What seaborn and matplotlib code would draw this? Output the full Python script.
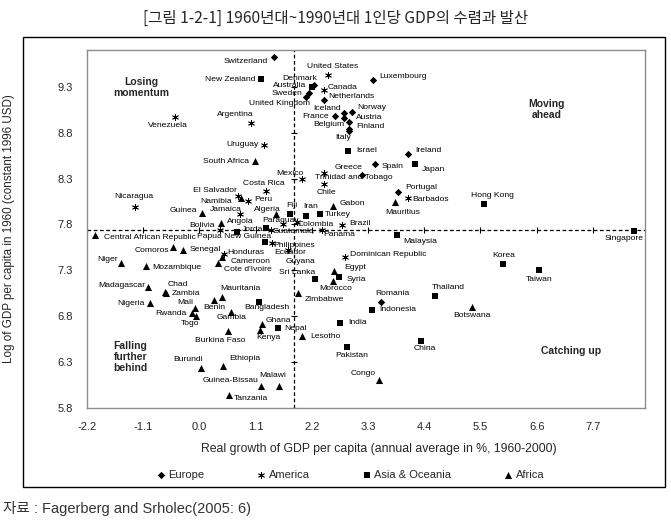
import pandas as pd
import seaborn as sns
import matplotlib.pyplot as plt
from matplotlib.patches import Rectangle

# --- data (growth %, log GDP per capita 1960) ---
europe_names = ["Switzerland", "Denmark", "Sweden", "United Kingdom", "Netherlands",
                "Luxembourg", "Norway", "Iceland", "Belgium", "France", "Austria",
                "Finland", "Italy", "Ireland", "Spain", "Greece", "Portugal", "Romania"]
europe_growth = [1.45, 2.25, 2.15, 2.09, 2.44, 3.39, 2.99, 2.83, 2.83, 2.66, 2.92,
                 2.93, 2.93, 4.09, 3.43, 3.19, 3.89, 3.56]
europe_gdp = [9.62, 9.32, 9.23, 9.19, 9.15, 9.37, 9.03, 9.01, 8.96, 8.98, 8.92,
              8.84, 8.82, 8.57, 8.46, 8.34, 8.15, 6.96]

america_names = ["United States", "Canada", "Venezuela", "Argentina", "Uruguay", "Mexico",
                 "Trinidad and Tobago", "Chile", "Barbados", "Costa Rica", "El Salvador",
                 "Peru", "Nicaragua", "Jamaica", "Bolivia", "Paraguay", "Colombia",
                 "Guatemala", "Panama", "Brazil", "Ecuador", "Guyana", "Honduras",
                 "Dominican Republic"]
america_growth = [2.51, 2.43, -0.48, 1.00, 1.26, 2.00, 2.43, 2.43, 4.09, 1.31, 0.76,
                  0.96, -1.27, 0.80, 0.41, 1.64, 1.90, 1.41, 2.39, 2.80, 1.42, 1.74,
                  0.49, 2.84]
america_gdp = [9.43, 9.26, 8.97, 8.91, 8.67, 8.29, 8.36, 8.24, 8.09, 8.16, 8.11,
               8.05, 7.99, 7.91, 7.74, 7.80, 7.83, 7.74, 7.74, 7.79, 7.60, 7.52,
               7.48, 7.45]

asia_names = ["New Zealand", "Australia", "Israel", "Japan", "Hong Kong", "Fiji", "Iran",
              "Turkey", "Jordan", "Papua New Guinea", "Philippines", "Malaysia",
              "Singapore", "Korea", "Taiwan", "Sri Lanka", "Syria", "Thailand",
              "Indonesia", "Bangladesh", "India", "Nepal", "Pakistan", "China"]
asia_growth = [1.21, 2.20, 2.90, 4.22, 5.56, 1.78, 2.09, 2.35, 0.73, 1.31, 1.29, 3.86,
               8.51, 5.95, 6.65, 2.26, 2.74, 4.61, 3.37, 1.17, 2.75, 1.53, 2.88, 4.33]
asia_gdp = [9.38, 9.30, 8.60, 8.46, 8.02, 7.91, 7.89, 7.91, 7.72, 7.76, 7.61, 7.68,
            7.73, 7.37, 7.30, 7.21, 7.23, 7.02, 6.87, 6.96, 6.73, 6.67, 6.46, 6.53]

africa_names = ["South Africa", "Namibia", "Mauritius", "Gabon", "Algeria", "Guinea",
                "Angola", "Central African Republic", "Comoros", "Senegal", "Niger",
                "Mozambique", "Cameroon", "Cote d'Ivoire", "Egypt", "Morocco", "Zimbabwe",
                "Madagascar", "Chad", "Zambia", "Nigeria", "Mali", "Rwanda", "Togo",
                "Benin", "Mauritania", "Gambia", "Ghana", "Kenya", "Burkina Faso",
                "Lesotho", "Botswana", "Burundi", "Ethiopia", "Guinea-Bissau", "Malawi",
                "Tanzania", "Congo"]
africa_growth = [1.09, 0.81, 3.82, 2.62, 1.49, 0.06, 0.42, -2.05, -0.52, -0.33, -1.54,
                 -1.05, 0.45, 0.36, 2.64, 2.62, 1.92, -1.00, -0.67, -0.65, -0.97, -0.08,
                 -0.15, -0.07, 0.29, 0.45, 0.61, 1.22, 1.19, 0.55, 2.00, 5.33, 0.03,
                 0.47, 1.20, 1.55, 0.57, 3.52]
africa_gdp = [8.49, 8.09, 8.04, 8.00, 7.91, 7.92, 7.81, 7.68, 7.55, 7.52, 7.38,
              7.35, 7.44, 7.38, 7.29, 7.18, 7.05, 7.12, 7.06, 7.05, 6.94, 6.89,
              6.83, 6.80, 6.98, 7.01, 6.85, 6.72, 6.65, 6.64, 6.58, 6.90, 6.24,
              6.26, 6.04, 6.04, 5.94, 6.10]

x_ticks = [-2.2, -1.1, 0.0, 1.1, 2.2, 3.3, 4.4, 5.5, 6.6, 7.7]
y_ticks = [5.8, 6.3, 6.8, 7.3, 7.8, 8.3, 8.8, 9.3]
x_cross, y_cross = 1.86, 7.74

quadrants = [("Losing\nmomentum", -1.13, 9.29), ("Moving\nahead", 6.79, 9.05),
             ("Catching up", 7.27, 6.42), ("Falling\nfurther\nbehind", -1.35, 6.355)]

# label placement: (dx px, dy px, ha)
label_pos = {
    "Switzerland": (-6, -4, "right"), "New Zealand": (-6, 0, "right"),
    "Venezuela": (-7, -8, "center"), "Argentina": (3, 8, "right"),
    "Uruguay": (-5, 0, "right"), "South Africa": (-6, 0, "right"),
    "United States": (5, 8, "center"), "Luxembourg": (7, 4, "left"),
    "Denmark": (3, 6, "right"), "Australia": (-6, 1, "right"),
    "Canada": (4, 3, "left"), "Sweden": (-7, 0, "right"),
    "United Kingdom": (4, -7, "right"), "Netherlands": (4, 4, "left"),
    "Iceland": (-3, 5, "right"), "Norway": (5, 4, "left"),
    "France": (-6, 0, "right"), "Austria": (7, 4, "left"),
    "Belgium": (0, -7, "right"), "Finland": (7, 2, "left"),
    "Italy": (-6, -7, "center"), "Israel": (9, 0, "left"),
    "Ireland": (7, 3, "left"), "Greece": (0, 7, "right"),
    "Spain": (7, -3, "left"), "Japan": (7, -6, "left"),
    "Mexico": (2, 6, "right"), "Trinidad and Tobago": (-9, -4, "left"),
    "Chile": (-7, -8, "left"), "Portugal": (7, 5, "left"),
    "Barbados": (4, -2, "left"), "Mauritius": (8, -10, "center"),
    "Gabon": (6, 3, "left"), "Fiji": (2, 9, "center"), "Iran": (-3, 10, "left"),
    "Turkey": (5, 0, "left"), "Colombia": (1, -3, "left"),
    "Paraguay": (-3, 4, "center"), "Guatemala": (1, -2, "left"),
    "Panama": (2, -5, "left"), "Brazil": (7, 2, "left"),
    "Malaysia": (7, -6, "left"), "Dominican Republic": (5, 2, "left"),
    "Egypt": (10, 4, "left"), "Sri Lanka": (0, 6, "right"),
    "Syria": (7, -3, "left"), "Morocco": (2, -7, "center"),
    "Zimbabwe": (7, -6, "left"), "Romania": (11, 8, "center"),
    "Thailand": (-3, 9, "left"), "Indonesia": (8, 0, "left"),
    "India": (8, 0, "left"), "Nepal": (7, 0, "left"), "Lesotho": (9, 0, "left"),
    "China": (4, -8, "center"), "Pakistan": (5, -8, "center"),
    "Congo": (-4, 7, "right"), "Malawi": (-6, 10, "center"),
    "Hong Kong": (9, 9, "center"), "Singapore": (-10, -8, "center"),
    "Korea": (0, 8, "center"), "Taiwan": (0, -9, "center"),
    "Botswana": (0, -8, "center"), "El Salvador": (-1, 5, "right"),
    "Costa Rica": (-3, 8, "center"), "Namibia": (-9, -4, "right"),
    "Peru": (6, 2, "left"), "Nicaragua": (-1, 10, "center"),
    "Guinea": (-5, 3, "right"), "Jamaica": (-15, 5, "center"),
    "Algeria": (-8, 5, "center"), "Angola": (6, 2, "left"),
    "Bolivia": (-6, 4, "right"), "Jordan": (5, 2.5, "left"),
    "Central African Republic": (9, -2, "left"),
    "Papua New Guinea": (5, -8.5, "right"), "Philippines": (8, -3.5, "left"),
    "Ecuador": (2, -9.5, "left"), "Guyana": (-3, -11, "left"),
    "Honduras": (3, 1, "left"), "Cameroon": (8, -4, "left"),
    "Cote d'Ivoire": (6, -7, "left"), "Comoros": (-4, -3, "right"),
    "Senegal": (7, 1, "left"), "Niger": (-3, 3, "right"),
    "Mozambique": (6, -2, "left"), "Madagascar": (-3, 1, "right"),
    "Chad": (2, 8, "left"), "Zambia": (6, 0, "left"), "Nigeria": (-5, 0, "right"),
    "Mali": (-2, 5, "right"), "Rwanda": (-5, 0, "right"),
    "Togo": (-6, -7, "center"), "Mauritania": (-2, 8, "left"),
    "Benin": (0, -8, "center"), "Bangladesh": (8, -6, "center"),
    "Gambia": (1, -6, "center"), "Ghana": (4, 3, "left"),
    "Kenya": (-4, -8, "left"), "Burkina Faso": (-7, -10, "center"),
    "Burundi": (-13, 8, "center"), "Ethiopia": (6, 7, "left"),
    "Guinea-Bissau": (-2, 5, "right"), "Tanzania": (5, -3, "left"),
}

frames = []
for reg, names, gx, gy in [("Europe", europe_names, europe_growth, europe_gdp),
                           ("America", america_names, america_growth, america_gdp),
                           ("Asia & Oceania", asia_names, asia_growth, asia_gdp),
                           ("Africa", africa_names, africa_growth, africa_gdp)]:
    frames.append(pd.DataFrame({"country": names, "region": reg, "growth": gx, "gdp": gy}))
df = pd.concat(frames, ignore_index=True)

sns.set_style("white")
plt.rcParams["font.family"] = ["Liberation Sans", "Noto Sans CJK KR"]

fig = plt.figure(figsize=(6.71, 5.29), dpi=100)
ax = fig.add_axes([87 / 671, 1 - 408 / 529, 558 / 671, 358 / 529])

styles = {
    "Europe": dict(marker="D", s=14, linewidth=0),
    "America": dict(marker=(6, 2, 0), s=20, linewidth=0.6),
    "Asia & Oceania": dict(marker="s", s=20, linewidth=0),
    "Africa": dict(marker="^", s=26, linewidth=0),
}
for reg, kw in styles.items():
    sub = df[df["region"] == reg]
    sns.scatterplot(data=sub, x="growth", y="gdp", color="black", edgecolor="black",
                    ax=ax, label=reg, zorder=3, **kw)

# reference lines with small tick marks
ax.axvline(x_cross, color="black", lw=0.9, ls=(0, (3, 2)), zorder=2)
ax.axhline(y_cross, color="black", lw=0.9, ls=(0, (3, 2)), zorder=2)
ax.plot(x_ticks, [y_cross] * len(x_ticks), ls="none", marker="|", ms=4,
        mew=0.8, color="black", zorder=2)
ax.plot([x_cross] * len(y_ticks), y_ticks, ls="none", marker="_", ms=4,
        mew=0.8, color="black", zorder=2)

for _, r in df.iterrows():
    dx, dy, ha = label_pos.get(r["country"], (5, 0, "left"))
    ax.annotate(r["country"], (r["growth"], r["gdp"]), xytext=(dx, dy),
                textcoords="offset pixels", ha=ha, va="center", fontsize=6.1,
                color="black", zorder=4)

for txt, qx, qy in quadrants:
    ax.text(qx, qy, txt, ha="center", va="center", fontsize=7.5,
            fontweight="bold", linespacing=1.15)

ax.set_xlim(-2.2, 8.72)
ax.set_ylim(5.8, 9.7)
ax.set_xticks(x_ticks)
ax.set_yticks(y_ticks)
ax.set_xticklabels([f"{v:.1f}" for v in x_ticks])
ax.set_yticklabels([f"{v:.1f}" for v in y_ticks])
ax.tick_params(length=0, labelsize=8, pad=10)
for sp in ax.spines.values():
    sp.set_color("#8c8c8c")
    sp.set_linewidth(1)

ax.set_xlabel("Real growth of GDP per capita (annual average in %, 1960-2000)", fontsize=8.8)
ax.set_ylabel("Log of GDP per capita in 1960 (constant 1996 USD)", fontsize=8.4)
ax.xaxis.set_label_coords(0.523, -0.098)
ax.yaxis.set_label_coords(-0.129, 0.5)

ax.legend(loc="center", bbox_to_anchor=(0.47, -0.187), ncol=4, frameon=False,
          fontsize=8, columnspacing=4.5, handletextpad=0.1, handlelength=1.2,
          markerscale=1.0)

fig.add_artist(Rectangle((23 / 671, 1 - 487 / 529), 642 / 671, 450 / 529,
                         transform=fig.transFigure, fill=False, lw=1, color="black"))

fig.text(0.5, 1 - 18 / 529, "[그림 1-2-1] 1960년대~1990년대 1인당 GDP의 수렴과 발산",
         ha="center", va="center", fontsize=11.2, family=["Noto Sans CJK KR"])
fig.text(3 / 671, 1 - 508 / 529, "자료 : Fagerberg and Srholec(2005: 6)",
         ha="left", va="center", fontsize=10.5,
         family=["Liberation Sans", "Noto Sans CJK KR"], color="#333333")

fig.savefig("out.png", dpi=100)
